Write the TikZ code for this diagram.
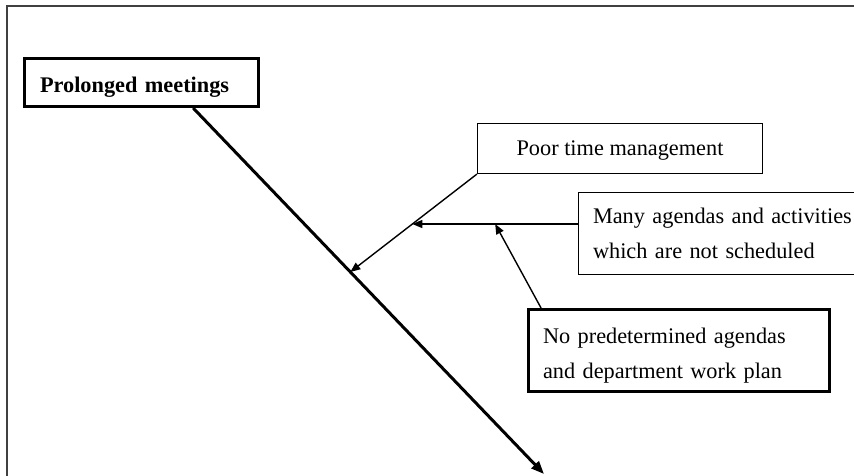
\documentclass[tikz,border=0pt]{standalone}
\usepackage{fontspec}
\setmainfont{Liberation Serif}
\usetikzlibrary{arrows.meta,calc}
\begin{document}
\begin{tikzpicture}[x=1pt,y=-1pt,
  txt/.style={font=\fontsize{22.3}{34}\selectfont},
  thinbox/.style={txt, draw, line width=1.2pt, inner sep=0pt},
  heavybox/.style={txt, draw, line width=3.3pt, inner sep=0pt},
  spine/.style={line width=3pt, -{Triangle[length=13pt,width=10pt]}},
  branch/.style={line width=1.4pt, -{Triangle[length=10pt,width=8pt]}}]
  \clip (0,0) rectangle (854,475);
  % page frame (open to the right and bottom)
  \draw[line width=2pt, black!75] (7,480) -- (7,6) -- (860,6);

  % effect and causes
  \node[heavybox, line width=3pt, text width=203pt, inner xsep=15.5pt,
        minimum height=48pt, text height=24pt, text depth=5pt, align=left,
        font=\fontsize{22.3}{34}\selectfont\bfseries]
        (pm) at (141.5,82.5) {Prolonged meetings};
  \node[thinbox, minimum width=285pt, minimum height=50pt,
        text height=18pt, text depth=5pt]
        (ptm) at (620,148.5) {Poor time management};
  \node[thinbox, text width=262.6pt, inner xsep=14.4pt, minimum height=81.8pt,
        align=left, font=\fontsize{22.3}{35}\selectfont]
        (many) at (724.3,233.5) {Many agendas and activities\\which are not scheduled};
  \node[heavybox, text width=272pt, inner xsep=14.25pt, minimum height=81.5pt,
        align=left, font=\fontsize{22.3}{35}\selectfont]
        (npd) at (679,350.5) {\rule{0pt}{26pt}No predetermined agendas\\and department work plan};

  % main spine
  \coordinate (pmfoot) at ($(pm.south west)!0.718!(pm.south east)$);
  \coordinate (mainend) at (544,474);
  \draw[spine] (pmfoot) -- (mainend);

  % branch points
  \coordinate (j1) at ($(pmfoot)!0.448!(mainend)$);
  \coordinate (j2) at ($(ptm.south west)!0.51!(j1)$);
  \coordinate (j3) at ($(j2)!0.5!(many.west |- j2)$);

  % cause arrows
  \draw[branch] (ptm.south west) -- (j1);
  \draw[branch] (many.west |- j2) -- (j2);
  \draw[branch] ([xshift=14pt]npd.north west) -- (j3);
\end{tikzpicture}
\end{document}
